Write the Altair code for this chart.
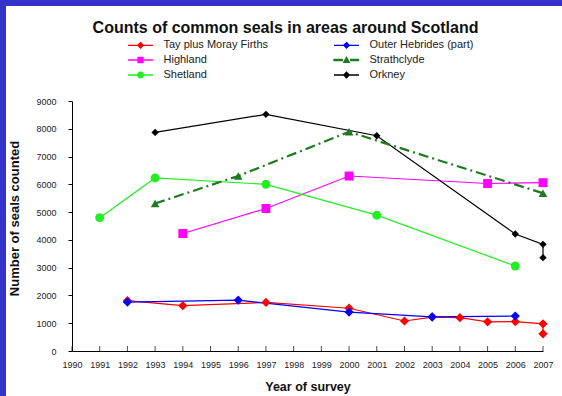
import altair as alt
import pandas as pd

series_names = ["Tay plus Moray Firths", "Outer Hebrides (part)", "Highland",
                "Strathclyde", "Shetland", "Orkney"]
series_colors = ["#FF0000", "#0000FF", "#FF00FF", "#1F7A1F", "#22EE22", "#000000"]

tay_years = [1992, 1994, 1997, 2000, 2002, 2003, 2004, 2005, 2006, 2007, 2007]
tay_counts = [1810, 1630, 1750, 1540, 1080, 1220, 1200, 1050, 1060, 980, 620]
hebrides_years = [1992, 1996, 2000, 2003, 2006]
hebrides_counts = [1760, 1830, 1400, 1230, 1260]
highland_years = [1994, 1997, 2000, 2005, 2007]
highland_counts = [4230, 5130, 6300, 6030, 6060]
strathclyde_years = [1993, 1996, 2000, 2007]
strathclyde_counts = [5310, 6300, 7890, 5680]
shetland_years = [1991, 1993, 1997, 2001, 2006]
shetland_counts = [4800, 6230, 6000, 4890, 3060]
orkney_years = [1993, 1997, 2001, 2006, 2007, 2007]
orkney_counts = [7870, 8520, 7750, 4210, 3840, 3360]

year_ticks = [1990, 1991, 1992, 1993, 1994, 1995, 1996, 1997, 1998, 1999,
              2000, 2001, 2002, 2003, 2004, 2005, 2006, 2007]
count_ticks = [0, 1000, 2000, 3000, 4000, 5000, 6000, 7000, 8000, 9000]

rows = []
for name, yrs, cnts in [
    (series_names[0], tay_years, tay_counts),
    (series_names[1], hebrides_years, hebrides_counts),
    (series_names[2], highland_years, highland_counts),
    (series_names[3], strathclyde_years, strathclyde_counts),
    (series_names[4], shetland_years, shetland_counts),
    (series_names[5], orkney_years, orkney_counts),
]:
    for i, (yr, c) in enumerate(zip(yrs, cnts)):
        rows.append({"series": name, "year": yr, "count": c, "ord": i})
df = pd.DataFrame(rows)
ticks_df = pd.DataFrame({"year": year_ticks})

FONT = "Liberation Sans"

x_enc = alt.X("year:Q",
              scale=alt.Scale(domain=[1990, 2007], nice=False, zero=False),
              axis=alt.Axis(values=year_ticks, format="d", ticks=False, grid=False,
                            domainColor="#000", domainWidth=1, zindex=1,
                            labelFont=FONT, labelFontSize=9, labelColor="#222",
                            labelPadding=9, labelFlush=False, labelOverlap=False,
                            title="Year of survey", titleFont=FONT, titleFontSize=12.5,
                            titleFontWeight="bold", titleColor="#111", titlePadding=11))
y_enc = alt.Y("count:Q",
              scale=alt.Scale(domain=[0, 9000], nice=False),
              axis=alt.Axis(values=count_ticks, format="d", grid=False, zindex=1,
                            domainColor="#000", domainWidth=1, tickColor="#000",
                            tickSize=4, labelFont=FONT, labelFontSize=9, labelColor="#222",
                            labelPadding=12, labelFlush=False, labelOverlap=False,
                            title="Number of seals counted", titleFont=FONT,
                            titleFontSize=13, titleFontWeight="bold", titleColor="#111",
                            titlePadding=14, titleY=117))

# colour scale for lines/markers: same colours, alphabetical domain order
line_domain = sorted(series_names)
line_range = [series_colors[series_names.index(n)] for n in line_domain]
color_enc = alt.Color("series:N", scale=alt.Scale(domain=line_domain, range=line_range),
                      legend=None)

base = alt.Chart(df)

frame = alt.Chart(ticks_df.head(1)).mark_rect(color="white").encode(
    x=alt.value(-66), x2=alt.value(490), y=alt.value(-95), y2=alt.value(295))

# inward x-axis tick marks
xticks = alt.Chart(ticks_df).mark_tick(
    color="#000", thickness=1, size=5, orient="vertical").encode(
    x=x_enc, y=alt.value(247.5))

solid = base.transform_filter(alt.datum.series != "Strathclyde").mark_line(
    strokeWidth=1.2).encode(x=x_enc, y=y_enc, color=color_enc, order="ord:Q")
dashed = base.transform_filter(alt.datum.series == "Strathclyde").mark_line(
    strokeWidth=2.2, strokeDash=[10, 4, 2, 4]).encode(
    x=x_enc, y=y_enc, color=color_enc, order="ord:Q")

def pts(names, shape, size):
    return base.transform_filter(
        alt.FieldOneOfPredicate(field="series", oneOf=names)).mark_point(
        filled=True, opacity=1, shape=shape, size=size).encode(
        x=x_enc, y=y_enc, color=color_enc)

p_tay = pts(["Tay plus Moray Firths"], "diamond", 85)
p_heb = pts(["Outer Hebrides (part)"], "diamond", 85)
p_high = pts(["Highland"], "square", 80)
p_str = pts(["Strathclyde"], "triangle-up", 75)
p_she = pts(["Shetland"], "circle", 80)
p_ork = pts(["Orkney"], "diamond", 55)

# legend symbols (line + marker), in legend order (filled column by column)
DIAMOND = "M-2.5,0H2.5M0,-0.55L0.55,0L0,0.55L-0.55,0Z"
legend_symbol = {
    "Tay plus Moray Firths": DIAMOND,
    "Outer Hebrides (part)": DIAMOND,
    "Highland": "M-2.5,0H2.5M-0.5,-0.5H0.5V0.5H-0.5Z",
    "Strathclyde": "M-2.5,-0.13H-0.85V0.13H-2.5ZM0,-0.55L0.55,0.45L-0.55,0.45Z"
                   "M0.85,-0.13H2.4V0.13H0.85Z",
    "Shetland": "M-2.5,0H2.5M0.55,0A0.55,0.55 0 1,1 -0.55,0A0.55,0.55 0 1,1 0.55,0Z",
    "Orkney": DIAMOND,
}
legend_order = ["Tay plus Moray Firths", "Highland", "Shetland",
                "Outer Hebrides (part)", "Strathclyde", "Orkney"]
legend_colors = [series_colors[series_names.index(n)] for n in legend_order]
legend_paths = [legend_symbol[n] for n in legend_order]

leg = alt.Legend(orient="none", legendX=56, legendY=-62, columns=2, columnPadding=62,
                 rowPadding=3, padding=0, title=None, labelFont=FONT, labelFontSize=11,
                 labelColor="#222", symbolOffset=6.5, labelOffset=17, zindex=2,
                 symbolStrokeWidth=1.3, symbolOpacity=1, labelLimit=300)
legend_layer = base.transform_filter("datum.year < 0").mark_point(
    filled=True, size=196).encode(
    x=x_enc, y=y_enc,
    fill=alt.Fill("series:N", scale=alt.Scale(domain=legend_order, range=legend_colors),
                  legend=leg),
    stroke=alt.Stroke("series:N", scale=alt.Scale(domain=legend_order, range=legend_colors),
                      legend=leg),
    shape=alt.Shape("series:N", scale=alt.Scale(domain=legend_order, range=legend_paths),
                    legend=leg),
)

chart = alt.layer(
    frame, xticks, solid, dashed, p_tay, p_heb, p_high, p_str, p_she, p_ork, legend_layer
).properties(
    width=471, height=250,
    title=alt.TitleParams("Counts of common seals in areas around Scotland", font=FONT,
                          fontSize=16, fontWeight="bold", color="#111", anchor="middle",
                          dx=-22, offset=0, dy=30, zindex=2),
    autosize=alt.AutoSizeParams(type="none"),
    padding={"left": 72, "top": 101, "right": 19, "bottom": 45},
    background="#3333CC",
).configure_view(stroke=None)

chart.save("out.html", embed_options={"renderer": "svg", "actions": False})
